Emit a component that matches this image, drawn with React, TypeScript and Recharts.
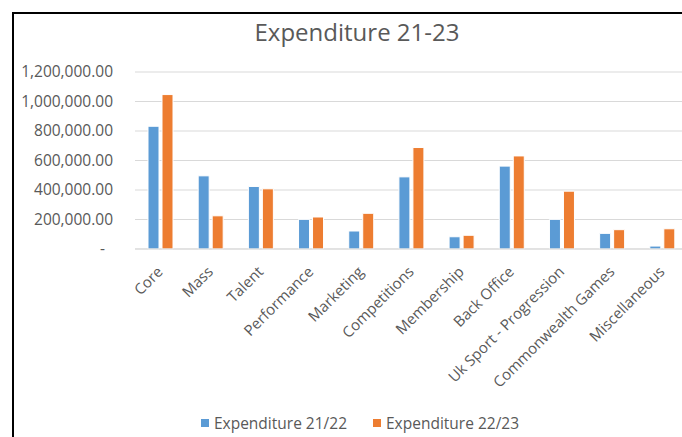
import React from 'react';
import { BarChart, Bar, XAxis, YAxis, CartesianGrid, Legend } from 'recharts';

const categories = [
    'Core',
    'Mass',
    'Talent',
    'Performance',
    'Marketing',
    'Competitions',
    'Membership',
    'Back Office',
    'Uk Sport - Progression',
    'Commonwealth Games',
    'Miscellaneous'
];
const expenditure2122 = [832000, 496000, 424000, 201000, 122000, 489000, 83000, 562000, 201000, 106000, 20000];
const expenditure2223 = [1047000, 225000, 408000, 217000, 242000, 688000, 93000, 631000, 392000, 131000, 137000];
const yTicks = [0, 200000, 400000, 600000, 800000, 1000000, 1200000];

const FONT = '"Open Sans", sans-serif';
const TEXT = '#595959';
const BLUE = '#5B9BD5';
const ORANGE = '#ED7D31';

const chartData = categories.map((name, i) => ({
    name,
    a: expenditure2122[i],
    b: expenditure2223[i]
}));

const fmt = (v: number) =>
    v === 0 ? '-' : v.toLocaleString('en-US', { minimumFractionDigits: 2, maximumFractionDigits: 2 });

const YTick = (props: any) => {
    const { x, y, payload } = props;
    const zero = payload.value === 0;
    return (
        <text x={zero ? x - 8 : x} y={y} dy="0.35em" textAnchor="end" fill={TEXT} fontSize={15.5} fontFamily={FONT}>
            {fmt(payload.value)}
        </text>
    );
};

const XTick = (props: any) => {
    const { x, y, payload } = props;
    const tx = x;
    const ty = y + 12;
    return (
        <text
            x={tx}
            y={ty}
            dy="0.35em"
            textAnchor="end"
            fill={TEXT}
            fontSize={15}
            fontFamily={FONT}
            transform={`rotate(-45 ${tx} ${ty})`}
        >
            {payload.value}
        </text>
    );
};

const LegendContent = () => (
    <div style={{ display: 'flex', justifyContent: 'center', fontFamily: FONT, fontSize: 15.5, color: TEXT, marginTop: 10 }}>
        {[
            { label: 'Expenditure 21/22', color: BLUE },
            { label: 'Expenditure 22/23', color: ORANGE }
        ].map((item, i) => (
            <div key={item.label} style={{ display: 'flex', alignItems: 'center', marginLeft: i ? 26 : 0 }}>
                <span style={{ width: 8, height: 8, background: item.color, marginRight: 5 }} />
                <span>{item.label}</span>
            </div>
        ))}
    </div>
);

export default function App() {
    return (
        <div style={{ position: 'absolute', left: 0, top: 0, width: 682, height: 437, overflow: 'hidden', background: '#fff' }}>
            <div
                style={{
                    position: 'absolute',
                    left: 12,
                    top: 12,
                    right: -10,
                    bottom: -10,
                    borderLeft: '2px solid #000',
                    borderTop: '2px solid #000'
                }}
            />
            <div
                style={{
                    position: 'absolute',
                    left: 207,
                    width: 300,
                    top: 16,
                    textAlign: 'center',
                    fontFamily: FONT,
                    fontSize: 24,
                    lineHeight: '32px',
                    color: TEXT
                }}
            >
                Expenditure 21-23
            </div>
            <div style={{ position: 'absolute', left: 0, top: 0 }}>
                <BarChart
                    width={760}
                    height={437}
                    data={chartData}
                    margin={{ top: 72, right: 73, bottom: 5, left: 0 }}
                    barSize={11}
                    barGap={3}
                >
                    <CartesianGrid vertical={false} stroke="#d9d9d9" />
                    <XAxis
                        dataKey="name"
                        interval={0}
                        height={153}
                        tickLine={false}
                        axisLine={{ stroke: '#d9d9d9' }}
                        tick={<XTick />}
                    />
                    <YAxis
                        width={135}
                        domain={[0, 1200000]}
                        ticks={yTicks}
                        axisLine={false}
                        tickLine={false}
                        tickSize={0}
                        tickMargin={22}
                        tick={<YTick />}
                    />
                    <Legend
                        verticalAlign="bottom"
                        height={30}
                        content={<LegendContent />}
                        wrapperStyle={{ left: 0, width: 720 }}
                    />
                    <Bar dataKey="a" name="Expenditure 21/22" fill={BLUE} stroke="#fff" strokeWidth={1} isAnimationActive={false} />
                    <Bar dataKey="b" name="Expenditure 22/23" fill={ORANGE} stroke="#fff" strokeWidth={1} isAnimationActive={false} />
                </BarChart>
            </div>
        </div>
    );
}
